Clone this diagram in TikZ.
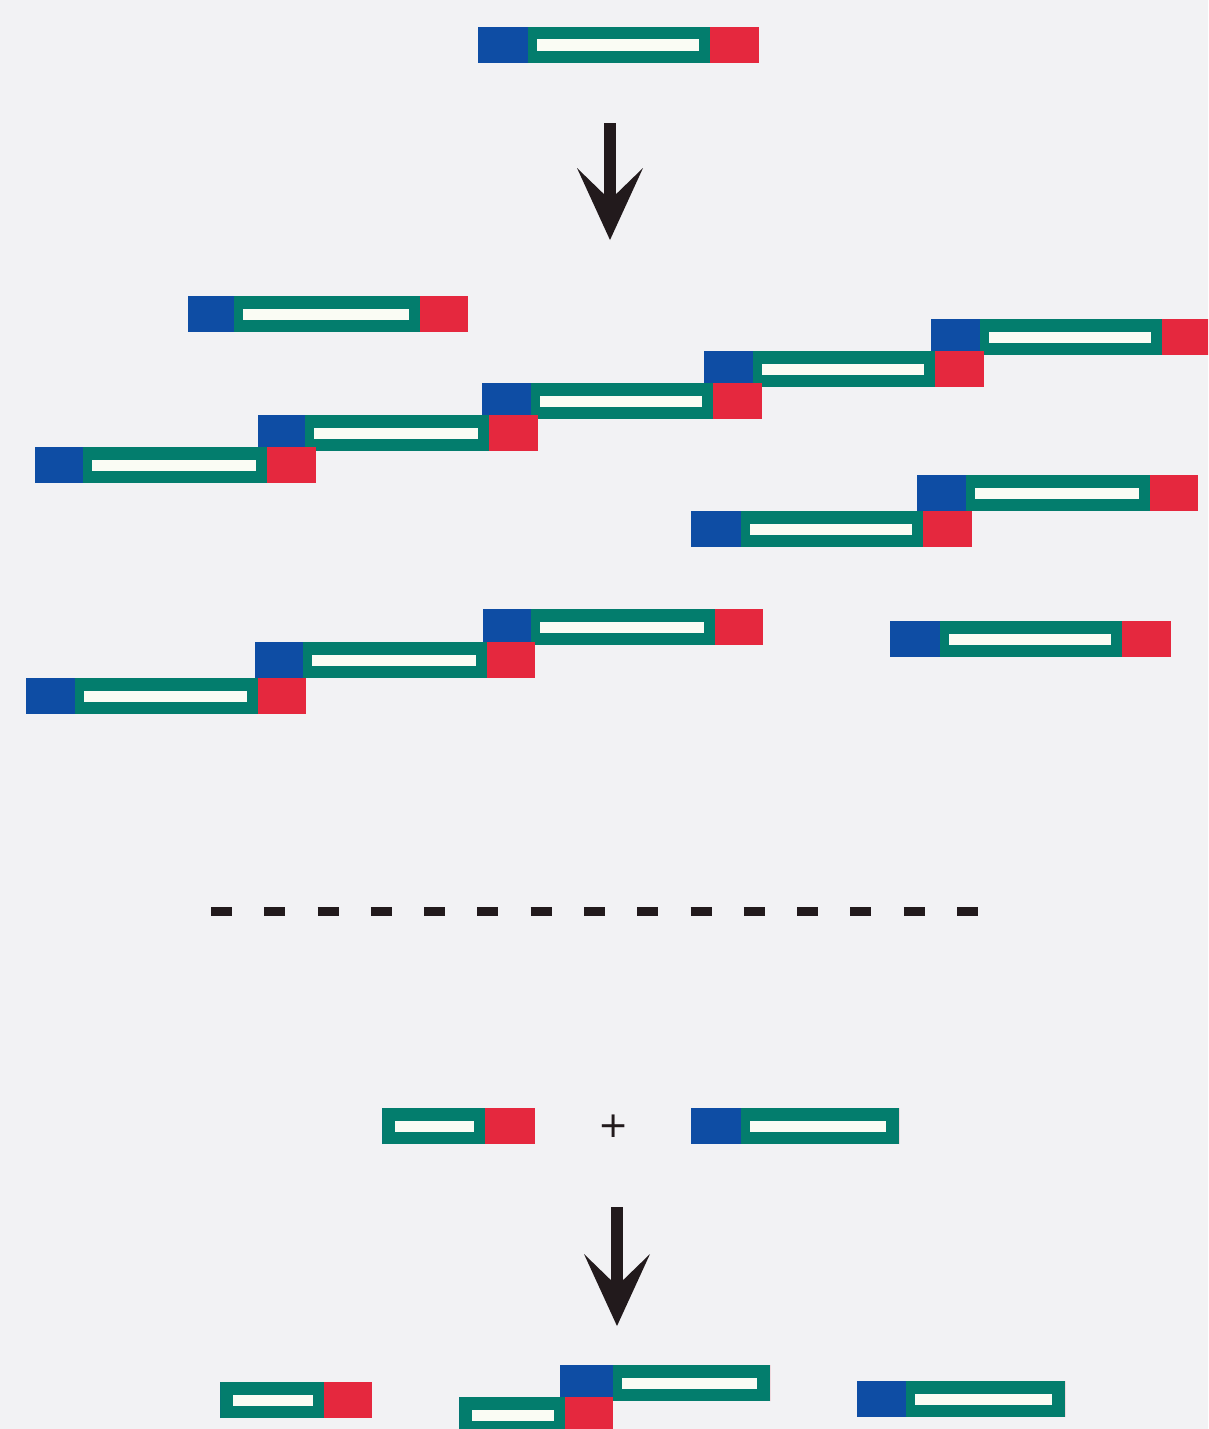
\documentclass[tikz,border=0pt]{standalone}
\usepackage{fontspec}
\usetikzlibrary{arrows.meta}
\newfontfamily\plusfamily{DejaVu Sans}

\definecolor{pagebg}{HTML}{F2F2F4}
\definecolor{rodblue}{HTML}{0E4DA4}
\definecolor{rodteal}{HTML}{037D6D}
\definecolor{rodred}{HTML}{E5283E}
\definecolor{rodslot}{HTML}{FAFCF4}
\definecolor{inkdark}{HTML}{221A1C}

% A rod: blue head, teal body with a light slot, red tail.
% #1 name, #2 left x, #3 top y, #4 blue width, #5 teal width, #6 red width
\newcommand\rodbar[6]{%
  \pgfmathsetmacro\rbA{#2+#4}%
  \pgfmathsetmacro\rbB{#2+#4+#5}%
  \pgfmathsetmacro\rbL{\rbA+ifthenelse(#4>0,9,13)}%
  \pgfmathsetmacro\rbR{\rbB-ifthenelse(#6>0,11,13)}%
  \coordinate (#1) at (#2,#3);
  \fill[rodteal] (\rbA,#3) rectangle (\rbB,#3+36);
  \fill[rodblue] (#2,#3) rectangle (\rbA,#3+36);
  \fill[rodred] (\rbB,#3) rectangle ({\rbB+#6},#3+36);
  \fill[rodslot] (\rbL,#3+12.5) rectangle (\rbR,#3+24);
}

\tikzset{
  bigarrow/.style={draw=inkdark, line width=12pt,
    -{Stealth[length=72pt, width=66pt, inset=32pt, line width=0pt, fill=inkdark]}},
  dashline/.style={draw=inkdark, line width=9pt, dash pattern=on 21pt off 32.29pt},
  plussign/.style={text=inkdark, inner sep=0pt, font=\plusfamily\fontsize{36}{36}\selectfont}
}

\begin{document}
\begin{tikzpicture}[x=1pt, y=-1pt]
  \useasboundingbox (0,0) rectangle (1208,1429);
  \fill[pagebg] (0,0) rectangle (1208,1429);
  \clip (0,0) rectangle (1208,1429);

  % starting rod
  \rodbar{top}{478}{27}{50}{182}{49}

  % first arrow
  \coordinate (a1s) at (610,123);
  \coordinate (a1e) at (610,240);
  \draw[bigarrow] (a1s) -- (a1e);

  % single rod
  \rodbar{solo1}{188}{296}{46}{186}{48}

  % long staircase (upper rods first so lower red tails sit on top)
  \rodbar{s5}{931}{319}{49}{182}{49}
  \rodbar{s4}{704}{351}{49}{182}{49}
  \rodbar{s3}{482}{383}{49}{182}{49}
  \rodbar{s2}{258}{415}{47}{184}{49}
  \rodbar{s1}{35}{447}{48}{184}{49}

  % two-rod staircase
  \rodbar{p2}{917}{475}{49}{184}{48}
  \rodbar{p1}{691}{511}{50}{182}{49}

  % three-rod staircase
  \rodbar{q3}{483}{609}{48}{184}{48}
  \rodbar{q2}{255}{642}{48}{184}{48}
  \rodbar{q1}{26}{678}{49}{183}{48}

  % single rod, right
  \rodbar{solo2}{890}{621}{50}{182}{49}

  % separator
  \coordinate (d1) at (211,911);
  \coordinate (d2) at (978,911);
  \draw[dashline] (d1) -- (d2);

  % two halves
  \rodbar{halfA}{382}{1108}{0}{103}{50}
  \node[plussign] (plus) at (614,1126) {+};
  \rodbar{halfB}{691}{1108}{50}{158}{0}

  % second arrow
  \coordinate (a2s) at (617,1207);
  \coordinate (a2e) at (617,1326);
  \draw[bigarrow] (a2s) -- (a2e);

  % products
  \rodbar{c1}{220}{1382}{0}{104}{48}
  \rodbar{c3}{560}{1365}{53}{157}{0}
  \rodbar{c2}{459}{1397}{0}{106}{48}
  \rodbar{c4}{857}{1381}{49}{159}{0}
\end{tikzpicture}
\end{document}
